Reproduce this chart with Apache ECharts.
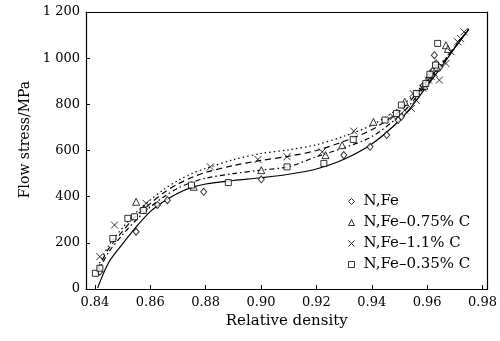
<!DOCTYPE html>
<html>
<head>
<meta charset="utf-8">
<script src="https://cdn.jsdelivr.net/npm/echarts@6/dist/echarts.min.js"></script>
<style>html,body{margin:0;padding:0;background:#fff}#c{width:500px;height:341px}</style>
</head>
<body>
<div id="c"></div>
<script>
// ---- data ----
const xTickValues = [0.84, 0.86, 0.88, 0.90, 0.92, 0.94, 0.96, 0.98];
const legendNames = ['N,Fe', 'N,Fe\u20130.75% C', 'N,Fe\u20131.1% C', 'N,Fe\u20130.35% C'];

const fitX       = [0.841,0.845,0.85,0.855,0.86,0.865,0.87,0.875,0.88,0.89,0.90,0.91,0.92,0.93,0.94,0.95,0.955,0.96,0.965,0.97,0.975];
const fitSolid   = [5,    115,  195, 270,  335, 380,  415, 440,  455, 470, 482, 497, 520, 562, 628, 730, 800, 880, 960, 1045,1125];
const fitDashDot = [70,   160,  235, 300,  355, 400,  437, 462,  480, 500, 515, 530, 573, 612, 660, 750, 815, 890, 965, 1045,1125];
const fitDashed  = [85,   175,  250, 318,  370, 418,  455, 483,  505, 535, 557, 575, 600, 640, 690, 770, 830, 900, 970, 1048,1125];
const fitDotted  = [95,   188,  265, 332,  385, 432,  470, 500,  522, 560, 587, 603, 625, 662, 710, 785, 840, 905, 973, 1050,1128];

const ptsFe = [[0.8418,75],[0.8549,248],[0.8579,345],[0.8626,364],[0.8662,385],[0.8793,421],[0.9001,475],
  [0.9299,580],[0.9394,616],[0.9454,667],[0.9495,732],[0.9507,746],[0.9585,880],[0.9605,910],[0.962,945],
  [0.9626,1013],[0.9632,977],[0.9645,960]];
const ptsC075 = [[0.8549,378],[0.8757,443],[0.9001,515],[0.9233,580],[0.9293,623],[0.9406,724],[0.9519,811],
  [0.959,880],[0.961,930],[0.9635,960],[0.9668,1056],[0.9675,1040]];
const ptsC11 = [[0.8418,140],[0.8471,277],[0.8585,371],[0.8817,529],[0.8989,561],[0.9094,573],[0.9221,594],
  [0.9335,684],[0.9478,746],[0.9519,775],[0.9543,782],[0.9549,847],[0.956,818],[0.9585,870],[0.9605,905],[0.9615,920],
  [0.9625,935],[0.9644,905],[0.9668,977],[0.9686,1028],[0.971,1071],[0.9721,1085],[0.9733,1114]];
const ptsC035 = [[0.8402,68],[0.8418,90],[0.8465,219],[0.8519,306],[0.8543,313],[0.8575,340],[0.8749,450],
  [0.8882,461],[0.9094,529],[0.9227,544],[0.9333,648],[0.9448,732],[0.9489,760],[0.9507,797],[0.9561,847],
  [0.9595,890],[0.961,930],[0.963,970],[0.9638,1064]];

// ---- chart ----
const pair = (xs, ys) => xs.map((x, i) => [x, ys[i]]);
const serif = 'DejaVu Serif';
const lineBase = { type: 'line', smooth: 0.3, showSymbol: false, silent: true, z: 2 };
const scatterBase = {
  type: 'scatter', z: 3,
  itemStyle: { color: '#fff', borderColor: '#000', borderWidth: 1 }
};
const xPath = 'path://M0,0L10,10M10,0L0,10';

const option = {
  animation: false,
  backgroundColor: '#fff',
  grid: { left: 86, right: 10, top: 12, bottom: 52 },
  xAxis: [{
    type: 'value', min: 0.8368, max: 0.9818,
    name: 'Relative density', nameLocation: 'middle', nameGap: 23,
    nameTextStyle: { fontFamily: serif, fontSize: 15, color: '#000' },
    axisLine: { lineStyle: { color: '#000', width: 1.2 } },
    axisTick: { inside: true, length: 4, customValues: xTickValues, lineStyle: { color: '#000' } },
    axisLabel: { customValues: xTickValues, margin: 7, fontFamily: serif, fontSize: 13, color: '#000',
      formatter: v => v.toFixed(2) },
    splitLine: { show: false }
  }, {
    type: 'value', position: 'top', min: 0.8368, max: 0.9818,
    axisLine: { show: true, onZero: false, lineStyle: { color: '#000', width: 1.2 } },
    axisTick: { show: false }, axisLabel: { show: false }, splitLine: { show: false }
  }],
  yAxis: [{
    type: 'value', min: 0, max: 1200, interval: 200,
    name: 'Flow stress/MPa', nameLocation: 'middle', nameGap: 53,
    nameTextStyle: { fontFamily: serif, fontSize: 14, color: '#000', padding: [0, 0, 0, 22] },
    axisLine: { show: true, lineStyle: { color: '#000', width: 1.2 } },
    axisTick: { inside: true, length: 4, lineStyle: { color: '#000' } },
    axisLabel: { margin: 6, fontFamily: serif, fontSize: 13, color: '#000',
      formatter: v => v >= 1000 ? Math.floor(v / 1000) + ' ' + String(v % 1000).padStart(3, '0') : String(v) },
    splitLine: { show: false }
  }, {
    type: 'value', position: 'right', min: 0, max: 1200,
    axisLine: { show: true, onZero: false, lineStyle: { color: '#000', width: 1.2 } },
    axisTick: { show: false }, axisLabel: { show: false }, splitLine: { show: false }
  }],
  legend: {
    data: legendNames,
    orient: 'vertical', left: 343, top: 189,
    itemWidth: 6, itemHeight: 6, itemGap: 6,
    itemStyle: { borderWidth: 1 },
    textStyle: { fontFamily: serif, fontSize: 15, color: '#000', padding: [0, 0, 0, 4] }
  },
  series: [
    Object.assign({}, lineBase, { name: 'fit-solid', data: pair(fitX, fitSolid),
      lineStyle: { color: '#000', width: 1.2, type: 'solid' } }),
    Object.assign({}, lineBase, { name: 'fit-dashdot', data: pair(fitX, fitDashDot),
      lineStyle: { color: '#000', width: 1.2, type: [5, 3, 1.5, 3] } }),
    Object.assign({}, lineBase, { name: 'fit-dashed', data: pair(fitX, fitDashed),
      lineStyle: { color: '#000', width: 1.2, type: [6, 4] } }),
    Object.assign({}, lineBase, { name: 'fit-dotted', data: pair(fitX, fitDotted),
      lineStyle: { color: '#000', width: 1.2, type: [1.5, 3] } }),
    Object.assign({}, scatterBase, { name: legendNames[0], data: ptsFe, symbol: 'diamond', symbolSize: [6, 7] }),
    Object.assign({}, scatterBase, { name: legendNames[1], data: ptsC075, symbol: 'triangle', symbolSize: 7 }),
    Object.assign({}, scatterBase, { name: legendNames[2], data: ptsC11, symbol: xPath, symbolSize: 7 }),
    Object.assign({}, scatterBase, { name: legendNames[3], data: ptsC035, symbol: 'rect', symbolSize: 6 })
  ]
};
const chart = echarts.init(document.getElementById('c'), null, { renderer: 'canvas' });
chart.setOption(option);
</script>
</body>
</html>
